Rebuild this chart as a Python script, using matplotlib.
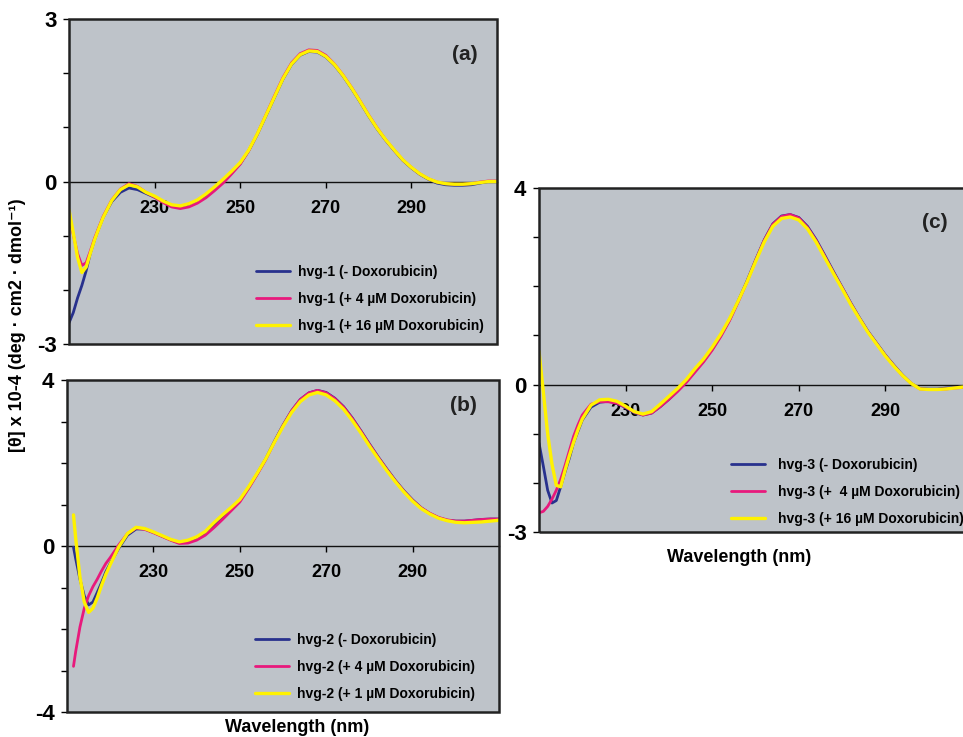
import matplotlib
matplotlib.use("Agg")
from matplotlib import pyplot as plt
from matplotlib.patches import Rectangle

plt.rcParams['font.family'] = ['Liberation Sans', 'DejaVu Sans']
plt.rcParams['font.weight'] = 'bold'

## data ##
wl_a = [210, 211, 212, 213, 214, 215, 216, 217, 218,
        220, 222, 224, 226, 228, 230, 232, 234, 236, 238, 240, 242, 244, 246, 248, 250,
        252, 254, 256, 258, 260, 262, 264, 266, 268, 270, 272, 274, 276, 278, 280,
        282, 284, 286, 288, 290, 292, 294, 296, 298, 300, 302, 304, 306, 308, 310]
a_none = [-2.61, -2.42, -2.15, -1.92, -1.65, -1.32, -1.07, -0.86, -0.66,
          -0.37, -0.20, -0.12, -0.15, -0.22, -0.29, -0.37, -0.44, -0.46, -0.42, -0.35, -0.25, -0.12, 0.02, 0.17, 0.33,
          0.57, 0.87, 1.21, 1.55, 1.89, 2.16, 2.33, 2.40, 2.39, 2.30, 2.15, 1.95, 1.72, 1.47, 1.21,
          0.97, 0.76, 0.57, 0.39, 0.25, 0.13, 0.04, -0.03, -0.06, -0.07, -0.07, -0.06, -0.03, 0.00, 0.00]
a_4uM = [-0.66, -0.98, -1.33, -1.55, -1.50, -1.28, -1.04, -0.84, -0.64,
         -0.34, -0.14, -0.04, -0.09, -0.20, -0.29, -0.39, -0.47, -0.50, -0.47, -0.40, -0.30, -0.17, -0.03, 0.14, 0.32,
         0.57, 0.88, 1.23, 1.58, 1.92, 2.19, 2.36, 2.43, 2.42, 2.33, 2.17, 1.97, 1.74, 1.49, 1.23,
         0.99, 0.77, 0.58, 0.40, 0.26, 0.14, 0.05, -0.01, -0.04, -0.05, -0.05, -0.04, -0.01, 0.01, 0.01]
a_16uM = [-0.52, -0.95, -1.40, -1.68, -1.58, -1.32, -1.07, -0.86, -0.66,
          -0.35, -0.15, -0.06, -0.10, -0.20, -0.27, -0.36, -0.43, -0.45, -0.41, -0.34, -0.23, -0.10, 0.04, 0.19, 0.35,
          0.58, 0.88, 1.22, 1.56, 1.90, 2.17, 2.34, 2.41, 2.40, 2.31, 2.16, 1.96, 1.73, 1.48, 1.22,
          0.98, 0.77, 0.58, 0.40, 0.26, 0.14, 0.05, -0.01, -0.04, -0.05, -0.05, -0.04, -0.02, 0.00, 0.00]

wl_b = [211.5, 212, 213, 214, 215, 216, 217, 218, 219, 220,
        222, 224, 226, 228, 230, 232, 234, 236, 238, 240, 242, 244, 246, 248, 250,
        252, 254, 256, 258, 260, 262, 264, 266, 268, 270, 272, 274, 276, 278, 280,
        282, 284, 286, 288, 290, 292, 294, 296, 298, 300, 302, 304, 306, 308, 310]
b_none = [-0.03, -0.30, -0.80, -1.20, -1.42, -1.35, -1.12, -0.88, -0.62, -0.42,
          -0.05, 0.26, 0.41, 0.41, 0.33, 0.24, 0.15, 0.08, 0.11, 0.19, 0.31, 0.50, 0.70, 0.90, 1.10,
          1.40, 1.74, 2.10, 2.52, 2.91, 3.26, 3.53, 3.69, 3.75, 3.70, 3.56, 3.36, 3.09, 2.78, 2.46,
          2.15, 1.86, 1.58, 1.33, 1.11, 0.92, 0.78, 0.68, 0.62, 0.60, 0.60, 0.62, 0.64, 0.65, 0.65]
b_4uM = [-2.90, -2.55, -1.95, -1.50, -1.20, -0.98, -0.80, -0.60, -0.42, -0.28,
         0.03, 0.30, 0.43, 0.40, 0.32, 0.23, 0.14, 0.06, 0.07, 0.14, 0.26, 0.44, 0.64, 0.85, 1.06,
         1.38, 1.72, 2.08, 2.50, 2.90, 3.26, 3.53, 3.69, 3.75, 3.69, 3.55, 3.35, 3.08, 2.77, 2.45,
         2.14, 1.85, 1.57, 1.32, 1.10, 0.92, 0.79, 0.69, 0.63, 0.60, 0.60, 0.62, 0.64, 0.65, 0.65]
b_1uM = [0.75, 0.20, -0.75, -1.35, -1.60, -1.50, -1.25, -0.95, -0.68, -0.45,
         -0.02, 0.30, 0.45, 0.42, 0.34, 0.25, 0.16, 0.10, 0.14, 0.22, 0.35, 0.56, 0.75, 0.93, 1.12,
         1.42, 1.75, 2.10, 2.50, 2.88, 3.22, 3.48, 3.64, 3.70, 3.64, 3.50, 3.30, 3.03, 2.73, 2.41,
         2.11, 1.82, 1.55, 1.30, 1.08, 0.90, 0.77, 0.67, 0.61, 0.57, 0.56, 0.57, 0.58, 0.60, 0.62]

wl_c = [210, 211, 212, 213, 214, 215, 216, 217, 218, 219, 220,
        222, 224, 226, 228, 230, 232, 234, 236, 238, 240, 242, 244, 246, 248, 250,
        252, 254, 256, 258, 260, 262, 264, 266, 268, 270, 272, 274, 276, 278, 280,
        282, 284, 286, 288, 290, 292, 294, 296, 298, 300, 302, 304, 306, 308, 310]
c_none = [-1.19, -1.66, -2.15, -2.41, -2.36, -2.08, -1.78, -1.50, -1.18, -0.95, -0.72,
          -0.46, -0.36, -0.34, -0.38, -0.47, -0.57, -0.62, -0.58, -0.45, -0.30, -0.13, 0.06, 0.27, 0.48, 0.72,
          1.00, 1.32, 1.70, 2.10, 2.53, 2.94, 3.27, 3.43, 3.46, 3.40, 3.22, 2.95, 2.63, 2.30, 1.98,
          1.66, 1.36, 1.08, 0.84, 0.60, 0.39, 0.19, 0.02, -0.08, -0.09, -0.09, -0.07, -0.06, -0.05, -0.05]
c_4uM = [-2.61, -2.58, -2.48, -2.33, -2.15, -1.93, -1.65, -1.35, -1.05, -0.82, -0.62,
         -0.40, -0.35, -0.35, -0.38, -0.46, -0.56, -0.62, -0.58, -0.45, -0.30, -0.14, 0.04, 0.25, 0.46, 0.70,
         0.98, 1.30, 1.68, 2.08, 2.52, 2.93, 3.26, 3.42, 3.46, 3.39, 3.20, 2.93, 2.61, 2.28, 1.97,
         1.65, 1.35, 1.07, 0.83, 0.59, 0.38, 0.18, 0.02, -0.09, -0.10, -0.10, -0.09, -0.07, -0.06, -0.05]
c_16uM = [0.68, -0.15, -1.00, -1.62, -2.05, -2.08, -1.75, -1.45, -1.17, -0.92, -0.70,
          -0.42, -0.31, -0.30, -0.34, -0.44, -0.55, -0.60, -0.55, -0.40, -0.24, -0.08, 0.10, 0.32, 0.52, 0.76,
          1.03, 1.34, 1.70, 2.08, 2.50, 2.90, 3.22, 3.38, 3.41, 3.35, 3.17, 2.90, 2.58, 2.26, 1.95,
          1.63, 1.34, 1.06, 0.82, 0.58, 0.37, 0.18, 0.02, -0.09, -0.10, -0.10, -0.09, -0.07, -0.05, -0.04]

labels_a = ["hvg-1 (- Doxorubicin)", "hvg-1 (+ 4 µM Doxorubicin)", "hvg-1 (+ 16 µM Doxorubicin)"]
labels_b = ["hvg-2 (- Doxorubicin)", "hvg-2 (+ 4 µM Doxorubicin)", "hvg-2 (+ 1 µM Doxorubicin)"]
labels_c = ["hvg-3 (- Doxorubicin)", "hvg-3 (+  4 µM Doxorubicin)", "hvg-3 (+ 16 µM Doxorubicin)"]
xticks = [230, 250, 270, 290]

colors = ['#28318d', '#e8197c', '#fff200']
widths = [2.0, 2.0, 2.4]
bg = '#bec3c9'

W, H = 963, 737
fig = plt.figure(figsize=(W / 100, H / 100), dpi=100)


def px_axes(left, top, right, bottom):
    return fig.add_axes([left / W, 1 - bottom / H, (right - left) / W, (bottom - top) / H])


def panel(ax, wl, series, labels, ylim, ylabels, tag, tagpos, legpos, textpad=0.6):
    ax.set_facecolor(bg)
    for ys, col, lw, lab in zip(series, colors, widths, labels):
        ax.plot(wl, ys, color=col, lw=lw, label=lab, solid_capstyle='round',
                solid_joinstyle='round', zorder=3)
    ax.set_xlim(210, 310)
    ax.set_ylim(*ylim)
    # x axis sits on the zero line
    for s in ['left', 'right', 'top']:
        ax.spines[s].set_visible(False)
    ax.spines['bottom'].set_position(('data', 0))
    ax.spines['bottom'].set_linewidth(1.0)
    ax.spines['bottom'].set_color('#111111')
    ax.add_patch(Rectangle((0, 0), 1, 1, transform=ax.transAxes, fill=False,
                           edgecolor='#222222', lw=1.8, clip_on=False, zorder=5))
    ax.set_xticks(xticks)
    ax.tick_params(axis='x', direction='out', length=4, width=1, pad=9, labelsize=13)
    ax.set_yticks(ylabels)
    ax.set_yticks(list(range(ylim[0], ylim[1] + 1)), minor=True)
    ax.set_yticklabels([str(v) for v in ylabels])
    ax.tick_params(axis='y', which='both', direction='out', length=4, width=1, pad=5, labelsize=16)
    ax.text(tagpos[0] / W, 1 - tagpos[1] / H, tag, transform=fig.transFigure,
            fontsize=15, ha='center', va='center', color='#222222')
    ax.legend(loc='upper left', bbox_to_anchor=(legpos[0] / W, 1 - legpos[1] / H),
              bbox_transform=fig.transFigure, frameon=False, fontsize=10,
              handlelength=2.45, handletextpad=textpad, labelspacing=0.93, borderpad=0,
              borderaxespad=0)


ax_a = px_axes(69, 19, 497, 344)
panel(ax_a, wl_a, [a_none, a_4uM, a_16uM], labels_a, (-3, 3), [-3, 0, 3],
      '(a)', (465, 54), (256, 265))

ax_b = px_axes(67, 380, 499, 712)
panel(ax_b, wl_b, [b_none, b_4uM, b_1uM], labels_b, (-4, 4), [-4, 0, 4],
      '(b)', (463, 405), (255, 633))

ax_c = px_axes(539, 188, 972, 532)
panel(ax_c, wl_c, [c_none, c_4uM, c_16uM], labels_c, (-3, 4), [-3, 0, 4],
      '(c)', (935, 222), (731, 458), textpad=0.95)

fig.text(297 / W, 1 - 727 / H, "Wavelength (nm)", ha='center', va='center', fontsize=13)
fig.text(739 / W, 1 - 557 / H, "Wavelength (nm)", ha='center', va='center', fontsize=13)
fig.text(18 / W, 1 - 325 / H, "[θ] x 10-4 (deg · cm2 · dmol⁻¹)", rotation=90,
         ha='center', va='center', fontsize=13)

fig.savefig("out.png", dpi=100)
